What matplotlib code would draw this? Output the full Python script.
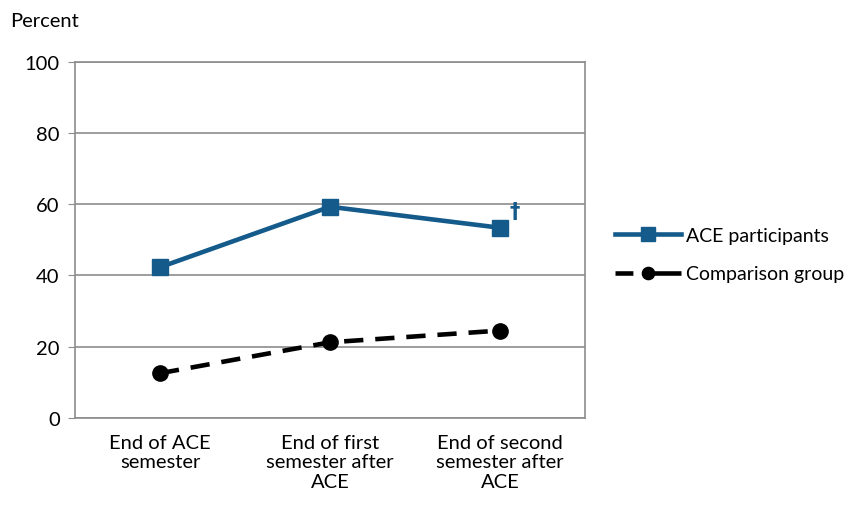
import matplotlib.pyplot as plt

plt.rcParams['font.family'] = ['Lato', 'DejaVu Sans']
plt.rcParams['font.size'] = 14.5

categories = ['End of ACE\nsemester', 'End of first\nsemester after\nACE', 'End of second\nsemester after\nACE']
ace = [42.3, 59.3, 53.4]
comparison = [12.5, 21.2, 24.5]
y_ticks = [0, 20, 40, 60, 80, 100]

BLUE = '#145a8a'
GRID = '#8c8c8c'

fig = plt.figure(figsize=(8.52, 5.10), dpi=100)
ax = fig.add_axes([0.088, 0.179, 0.5986, 0.6975])

x = range(len(categories))
ax.plot(x, ace, color=BLUE, lw=3.3, marker='s', ms=12, label='ACE participants', zorder=3)
ax.plot(x, comparison, color='black', lw=3.3, ls=(0, (4.2, 2.6)), marker='o', ms=11,
        label='Comparison group', zorder=3)

# dagger next to last ACE point
ax.annotate('\u2020', (2, ace[2]), xytext=(7, 5), textcoords='offset points',
            color=BLUE, fontsize=15, fontweight='bold', family='DejaVu Sans',
            ha='left', va='bottom')

ax.set_xlim(-0.5, 2.5)
ax.set_ylim(0, 100)
ax.set_yticks(y_ticks)
ax.set_xticks(list(x))
ax.set_xticklabels(categories, linespacing=1.15)
ax.tick_params(axis='x', length=0, pad=12)
ax.tick_params(axis='y', length=5, color=GRID, pad=6)
ax.yaxis.grid(True, color=GRID, lw=1.2)
ax.set_axisbelow(True)
for s in ax.spines.values():
    s.set_color(GRID)
    s.set_linewidth(1.2)

fig.text(0.012, 0.975, 'Percent', ha='left', va='top')

leg = fig.legend(loc='upper left', bbox_to_anchor=(0.722, 0.553), frameon=False, borderpad=0,
                 borderaxespad=0, fontsize=14, handlelength=3.4, labelspacing=1.1,
                 handletextpad=0.25, markerscale=0.8)
# short dash, then a longer dash through the marker in the legend key
leg.get_lines()[1].set_linestyle((0, (3.9, 2.0, 9, 50)))

fig.savefig('out.png', dpi=100)
